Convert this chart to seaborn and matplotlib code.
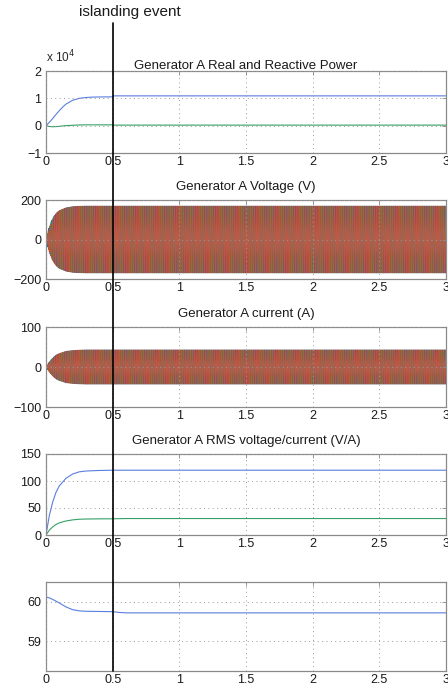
import numpy as np
import pandas as pd
import matplotlib
matplotlib.use("Agg")
import matplotlib.pyplot as plt
import matplotlib.transforms as mtransforms
from matplotlib.lines import Line2D
from matplotlib.ticker import FuncFormatter
import seaborn as sns

# ---------------- data ----------------
x_ticks = [0, 0.5, 1, 1.5, 2, 2.5, 3]
x_tick_labels = ["0", "0.5", "1", "1.5", "2", "2.5", "3"]

# Panel 1: real / reactive power (W / var)
t_power = [0, 0.025, 0.05, 0.075, 0.1, 0.125, 0.15, 0.2, 0.25, 0.3, 0.35, 0.4, 0.5, 0.5, 0.6, 1.0, 2.0, 3.0]
real_power = [0, 1200, 2600, 4100, 5500, 6800, 7900, 9300, 10000, 10300, 10450, 10500, 10550, 10900, 10900, 10900, 10900, 10900]
reactive_power = [0, -300, -400, -350, -250, -100, 0, 150, 250, 300, 300, 300, 300, 200, 200, 200, 200, 200]

# Panels 2/3: three-phase 60 Hz waveforms, envelope
freq_nominal = 60.0
phase_names = ["a", "b", "c"]
phase_shift_deg = [0, -120, 120]
t_v_env = [0, 0.01, 0.02, 0.04, 0.06, 0.08, 0.1, 0.15, 0.2, 0.25, 0.3, 3.0]
v_env = [0, 31, 56, 94, 119, 136, 147, 161, 167, 169, 170, 170]
t_i_env = [0, 0.02, 0.04, 0.06, 0.08, 0.1, 0.15, 0.2, 0.25, 0.3, 3.0]
i_env = [0, 11, 19, 26, 31, 34, 39.5, 41.5, 42.5, 43, 43]

# Panel 4: RMS voltage / current
t_rms = [0, 0.025, 0.05, 0.075, 0.1, 0.15, 0.2, 0.25, 0.3, 0.4, 0.5, 0.6, 1.0, 3.0]
v_rms = [0, 36, 61, 79, 91, 105, 113, 117, 118.5, 119.5, 120, 120, 120, 120]
i_rms = [0, 9, 15, 19.5, 22.5, 26, 28, 29.2, 29.6, 29.9, 30, 30.5, 30.5, 30.5]

# Panel 5: frequency (Hz)
t_freq = [0, 0.025, 0.05, 0.1, 0.15, 0.2, 0.25, 0.3, 0.4, 0.5, 0.55, 0.6, 1.0, 3.0]
freq = [60.12, 60.1, 60.06, 59.97, 59.87, 59.8, 59.77, 59.76, 59.755, 59.75, 59.73, 59.72, 59.72, 59.72]

islanding_time = 0.5

titles = ["Generator A Real and Reactive Power",
          "Generator A Voltage (V)",
          "Generator A current (A)",
          "Generator A RMS voltage/current (V/A)",
          ""]

# ---------------- style ----------------
sns.set_style("white")
plt.rcParams["font.family"] = ["Liberation Sans", "DejaVu Sans"]
plt.rcParams["axes.unicode_minus"] = True

BLUE = "#5a7ee0"
GREEN = "#35a066"
RED = "#e8432b"
WAVE_BLUE = "#3a5ab8"
WAVE_GREEN = "#2f8a58"
palette = {"a": WAVE_BLUE, "b": WAVE_GREEN, "c": RED}

W, H = 448, 688
fig = plt.figure(figsize=(W / 100, H / 100), dpi=100)

def box(top, bottom, left=46, right=446):
    return [left / W, (H - bottom) / H, (right - left) / W, (bottom - top) / H]

rects = [box(71, 153), box(200, 279), box(327, 407), box(454, 535), box(582, 671)]
axes = [fig.add_axes(r) for r in rects]


def waveform(t_env, env):
    t = np.linspace(0, 3, int(3 * freq_nominal * 40) + 1)
    amp = np.interp(t, t_env, env)
    rows = []
    for name, sh in zip(phase_names, phase_shift_deg):
        y = amp * np.sin(2 * np.pi * freq_nominal * t + np.deg2rad(sh))
        rows.append(pd.DataFrame({"t": t, "y": y, "phase": name}))
    return pd.concat(rows, ignore_index=True)


# Panel 1
ax = axes[0]
sns.lineplot(x=t_power, y=real_power, ax=ax, color=BLUE, lw=0.8, estimator=None, sort=False)
sns.lineplot(x=t_power, y=reactive_power, ax=ax, color=GREEN, lw=0.8, estimator=None, sort=False)
ax.set_ylim(-1e4, 2e4)
ax.set_yticks([-1e4, 0, 1e4, 2e4])
ax.yaxis.set_major_formatter(FuncFormatter(lambda v, p: f"{v / 1e4:g}".replace("-", "\u2212")))
ax.text(0.0, 1.07, r"x 10$^4$", transform=ax.transAxes, fontsize=8.5, ha="left", va="bottom")

# Panel 2
ax = axes[1]
dv = waveform(t_v_env, v_env)
sns.lineplot(data=dv, x="t", y="y", hue="phase", hue_order=phase_names, palette=palette,
             ax=ax, lw=0.5, estimator=None, sort=False, legend=False)
ax.set_ylim(-200, 200)
ax.set_yticks([-200, 0, 200])

# Panel 3
ax = axes[2]
di = waveform(t_i_env, i_env)
sns.lineplot(data=di, x="t", y="y", hue="phase", hue_order=phase_names, palette=palette,
             ax=ax, lw=0.5, estimator=None, sort=False, legend=False)
ax.set_ylim(-100, 100)
ax.set_yticks([-100, 0, 100])

# Panel 4
ax = axes[3]
sns.lineplot(x=t_rms, y=v_rms, ax=ax, color=BLUE, lw=0.8, estimator=None, sort=False)
sns.lineplot(x=t_rms, y=i_rms, ax=ax, color=GREEN, lw=0.8, estimator=None, sort=False)
ax.set_ylim(0, 150)
ax.set_yticks([0, 50, 100, 150])

# Panel 5
ax = axes[4]
sns.lineplot(x=t_freq, y=freq, ax=ax, color=BLUE, lw=0.8, estimator=None, sort=False)
ax.set_ylim(58.25, 60.5)
ax.set_yticks([59, 60])

pads = [1.5, 7, 7, 7, 7]
for ax, title, pad in zip(axes, titles, pads):
    ax.set_xlim(0, 3)
    ax.set_xticks(x_ticks)
    ax.set_xticklabels(x_tick_labels)
    ax.set_xlabel("")
    ax.set_ylabel("")
    ax.grid(True, color="#9a9a9a", linestyle=(0, (1, 3.5)), linewidth=0.7)
    ax.set_axisbelow(False)
    for s in ax.spines.values():
        s.set_color("#8a8a8a")
        s.set_linewidth(0.9)
    ax.tick_params(direction="in", length=3, width=0.6, color="#8a8a8a",
                   top=True, right=True, labelsize=9, labelcolor="#1a1a1a")
    ax.tick_params(axis="x", pad=2.5)
    ax.tick_params(axis="y", pad=3.5)
    if title:
        ax.set_title(title, fontsize=9.5, pad=pad, color="#1a1a1a")

# islanding event marker spanning all panels
trans = mtransforms.blended_transform_factory(axes[0].transData, fig.transFigure)
fig.add_artist(Line2D([islanding_time, islanding_time], [(H - 23) / H, (H - 671) / H],
                      transform=trans, color="black", lw=1.2, zorder=10))
fig.text(0.626, 1 - 12 / H, "islanding event", transform=trans, fontsize=11,
         ha="center", va="center", color="#1a1a1a")

fig.savefig("out.png", dpi=100)
